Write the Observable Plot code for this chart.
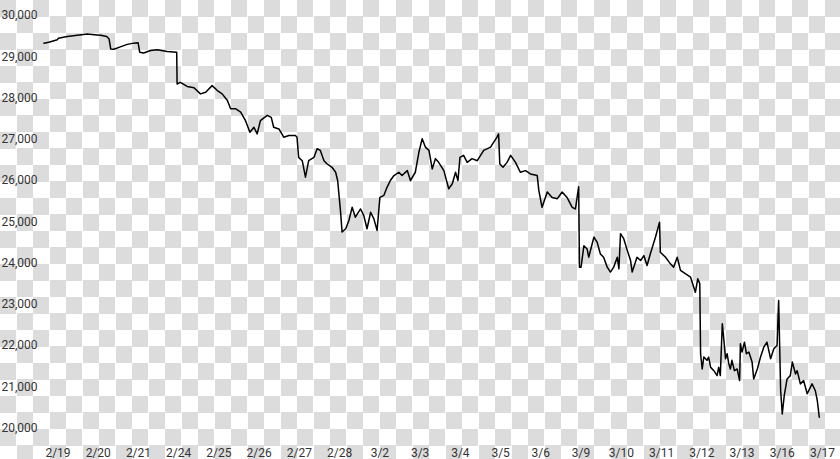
<!DOCTYPE html>
<html><head><meta charset="utf-8">
<script src="https://cdn.jsdelivr.net/npm/d3@7"></script>
<script src="https://cdn.jsdelivr.net/npm/@observablehq/plot@0.6"></script>
<style>
html,body{margin:0;padding:0;}
body{width:840px;height:459px;overflow:hidden;background:#fff repeating-conic-gradient(#fff 0 25%, #dcdcdc 0 50%) 0 0/33px 33px;}
#chart svg{display:block;}
</style></head><body><div id="chart"></div>
<script>
const dayLabels = ["2/19","2/20","2/21","2/24","2/25","2/26","2/27","2/28","3/2","3/3","3/4","3/5","3/6","3/9","3/10","3/11","3/12","3/13","3/16","3/17"];
const yTicks = [20000,21000,22000,23000,24000,25000,26000,27000,28000,29000,30000];
// time in trading days since the 2/19 open, and price
const t = [
-0.35,-0.23,-0.10,-0.02,0.01,0.23,0.48,0.73,0.97,1.06,
1.21,1.27,1.31,1.39,1.55,1.72,1.88,1.99,2.03,2.13,
2.30,2.47,2.71,2.95,2.96,3.04,3.21,3.38,3.54,3.67,
3.83,3.96,4.08,4.21,4.29,4.41,4.54,4.66,4.77,4.87,
4.95,5.03,5.20,5.30,5.36,5.49,5.61,5.74,5.90,5.94,
5.98,6.07,6.15,6.23,6.36,6.44,6.52,6.61,6.69,6.81,
6.90,6.95,7.02,7.06,7.15,7.23,7.31,7.39,7.52,7.60,
7.68,7.77,7.85,7.93,8.00,8.10,8.18,8.26,8.35,8.47,
8.55,8.68,8.76,8.88,8.97,9.05,9.13,9.22,9.30,9.38,
9.46,9.59,9.71,9.80,9.88,9.94,9.99,10.08,10.17,10.29,
10.42,10.58,10.75,10.91,10.95,10.98,11.06,11.16,11.25,11.37,
11.49,11.62,11.74,11.91,11.95,12.03,12.16,12.28,12.41,12.53,
12.65,12.78,12.86,12.94,12.96,13.00,13.07,13.15,13.19,13.32,
13.40,13.48,13.56,13.65,13.73,13.81,13.90,13.94,13.98,14.06,
14.15,14.23,14.27,14.39,14.48,14.56,14.64,14.72,14.85,14.95,
14.97,15.10,15.22,15.30,15.39,15.47,15.59,15.72,15.84,15.90,
15.95,15.97,16.01,16.05,16.13,16.17,16.22,16.30,16.38,16.42,
16.46,16.51,16.55,16.59,16.63,16.67,16.71,16.75,16.81,16.88,
16.94,16.96,17.00,17.06,17.11,17.17,17.25,17.29,17.38,17.46,
17.54,17.62,17.71,17.79,17.87,17.91,17.96,18.00,18.05,18.12,
18.20,18.25,18.33,18.37,18.45,18.53,18.62,18.74,18.82,18.87,18.92
];
const price = [
29330,29350,29390,29410,29450,29490,29520,29550,29530,29520,
29490,29430,29190,29180,29240,29300,29330,29340,29110,29090,
29150,29170,29130,29110,28340,28380,28280,28250,28100,28140,
28300,28180,28100,27940,27740,27740,27660,27450,27170,27290,
27130,27450,27580,27530,27290,27250,27050,27090,27090,27050,
26560,26480,26080,26480,26560,26770,26730,26480,26400,26320,
26200,26000,25270,24750,24830,25030,25350,25110,25310,25150,
24830,25230,25070,24790,25590,25640,25840,26000,26120,26200,
26120,26240,26000,26200,26690,27010,26810,26730,26280,26530,
26440,26240,25800,25920,26200,26000,26560,26610,26440,26530,
26480,26730,26810,27050,27130,26400,26320,26440,26610,26440,
26200,26240,26160,26120,25760,25350,25720,25590,25560,25720,
25590,25350,25310,25850,23900,23900,24420,24340,24140,24630,
24500,24220,24140,23900,23780,23900,24140,23860,24710,24590,
24300,24060,23780,24140,24060,24180,23940,24220,24630,24990,
24260,24140,23980,23900,24140,23820,23740,23660,23290,23620,
23500,21800,21430,21720,21640,21720,21470,21390,21270,21470,
21270,22530,22120,21680,21800,21560,21430,21640,21390,21430,
21150,22040,21840,22080,21800,21840,21600,21190,21430,21720,
21960,22080,21680,21920,22000,23090,20910,20340,20790,21190,
21270,21600,21310,21390,21070,21150,20830,21070,20910,20670,20260
];
const data = t.map((d, i) => ({t: d, price: price[i]}));

const chart = Plot.plot({
  width: 840,
  height: 459,
  marginTop: 15,
  marginBottom: 31.5,
  marginLeft: 40,
  marginRight: 18,
  style: {background: "transparent", fontFamily: "Roboto, sans-serif", fontSize: "12px", color: "#333", overflow: "visible"},
  x: {domain: [0, dayLabels.length - 1], range: [57.5, 822], label: null},
  y: {domain: [20000, 30000], label: null},
  marks: [
    Plot.axisY({ticks: yTicks, tickFormat: d3.format(","), tickSize: 0, tickPadding: 3, fontSize: 12, label: null}),
    Plot.axisX({ticks: d3.range(dayLabels.length), tickFormat: i => dayLabels[i], tickSize: 0, tickPadding: 20, fontSize: 12, label: null}),
    Plot.line(data, {x: "t", y: "price", stroke: "#000", strokeWidth: 1.5, curve: "linear"})
  ]
});
document.getElementById("chart").appendChild(chart);
</script>
</body></html>
